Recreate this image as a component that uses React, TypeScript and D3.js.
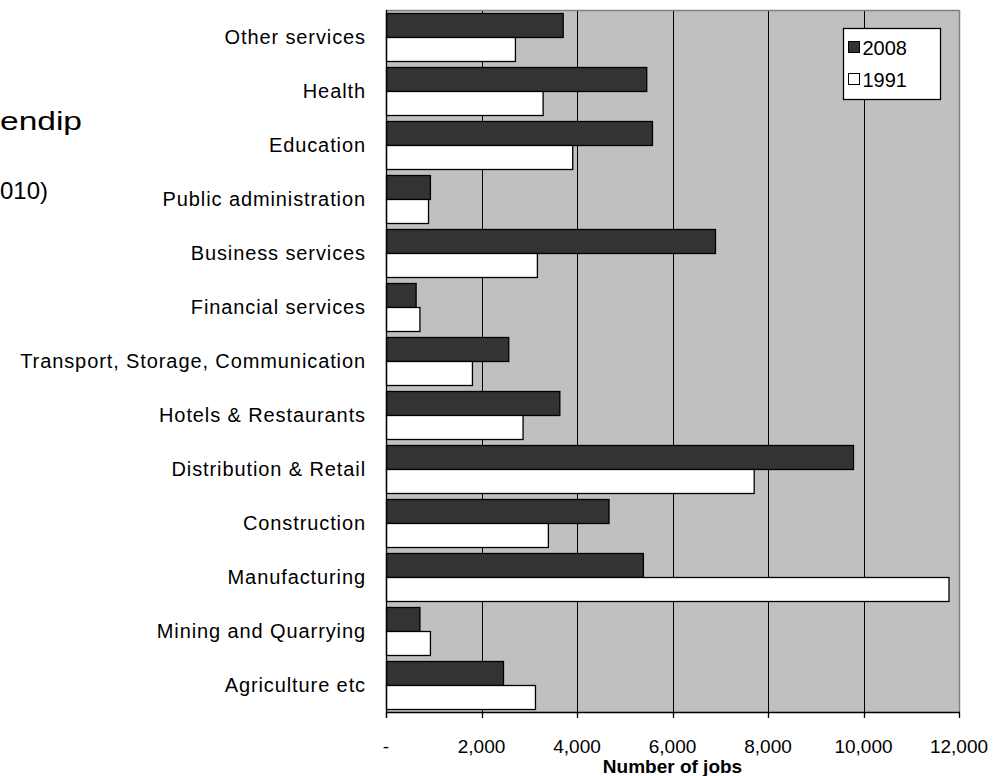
import { useRef, useEffect } from 'react';
import * as d3 from 'd3';

const VW = 1005, VH = 776;
const M = { top: 10, right: 46, bottom: 64, left: 386 };
const IW = VW - M.left - M.right;
const IH = VH - M.top - M.bottom;
const FONT = '"Liberation Sans", Arial, sans-serif';

const SECTORS = [
  'Other services', 'Health', 'Education', 'Public administration', 'Business services',
  'Financial services', 'Transport, Storage, Communication', 'Hotels & Restaurants',
  'Distribution & Retail', 'Construction', 'Manufacturing', 'Mining and Quarrying', 'Agriculture etc',
];
const JOBS_2008 = [3700, 5450, 5570, 920, 6890, 620, 2560, 3630, 9780, 4660, 5380, 700, 2450];
const JOBS_1991 = [2700, 3280, 3900, 880, 3160, 700, 1800, 2860, 7700, 3390, 11780, 920, 3120];
const YEARS = ['2008', '1991'];
const YEAR_FILL = ['#333333', '#ffffff'];
const X_TICKS = [0, 2000, 4000, 6000, 8000, 10000, 12000];

export default function App() {
  const svgRef = useRef<SVGSVGElement>(null);

  useEffect(() => {
    const svg = d3.select(svgRef.current);
    svg.selectAll('*').remove();

    const x = d3.scaleLinear().domain([0, 12000]).range([M.left, M.left + IW]);
    const y = d3.scaleBand<string>().domain(SECTORS).range([M.top, M.top + IH])
      .paddingInner(1 / 9).paddingOuter(1 / 18);
    const sub = d3.scaleBand<string>().domain(YEARS).range([0, y.bandwidth()]);
    const fmt = d3.format(',');

    // plot background
    svg.append('rect').attr('x', M.left).attr('y', M.top).attr('width', IW).attr('height', IH)
      .attr('fill', '#c0c0c0');

    // vertical gridlines
    svg.append('g').selectAll('line').data(X_TICKS.slice(1, -1)).join('line')
      .attr('x1', d => Math.round(x(d)) + 0.5).attr('x2', d => Math.round(x(d)) + 0.5)
      .attr('y1', M.top).attr('y2', M.top + IH).attr('stroke', '#000').attr('stroke-width', 1);

    // bars
    const rows = SECTORS.map((s, i) => ({ s, vals: [JOBS_2008[i], JOBS_1991[i]] }));
    const g = svg.append('g');
    rows.forEach(r => {
      r.vals.forEach((v, k) => {
        g.append('rect')
          .attr('x', x(0) + 0.5)
          .attr('y', Math.round((y(r.s) ?? 0) + (sub(YEARS[k]) ?? 0)) + 0.5)
          .attr('width', x(v) - x(0))
          .attr('height', sub.bandwidth())
          .attr('fill', YEAR_FILL[k]).attr('stroke', '#000').attr('stroke-width', 1.3);
      });
    });

    // plot frame: grey top/right, black axes left/bottom
    svg.append('line').attr('x1', M.left).attr('x2', M.left + IW).attr('y1', M.top + 0.5).attr('y2', M.top + 0.5)
      .attr('stroke', '#808080').attr('stroke-width', 1.5);
    svg.append('line').attr('x1', M.left + IW + 0.5).attr('x2', M.left + IW + 0.5).attr('y1', M.top).attr('y2', M.top + IH)
      .attr('stroke', '#808080').attr('stroke-width', 1.5);
    svg.append('line').attr('x1', M.left + 0.5).attr('x2', M.left + 0.5).attr('y1', M.top).attr('y2', M.top + IH + 6)
      .attr('stroke', '#000').attr('stroke-width', 1.3);
    svg.append('line').attr('x1', M.left).attr('x2', M.left + IW + 1).attr('y1', M.top + IH + 0.5).attr('y2', M.top + IH + 0.5)
      .attr('stroke', '#000').attr('stroke-width', 1.3);
    svg.append('g').selectAll('line').data(X_TICKS).join('line')
      .attr('x1', d => Math.round(x(d)) + 0.5).attr('x2', d => Math.round(x(d)) + 0.5)
      .attr('y1', M.top + IH).attr('y2', M.top + IH + 6).attr('stroke', '#000').attr('stroke-width', 1.3);

    // category labels
    svg.append('g').selectAll('text').data(SECTORS).join('text')
      .attr('x', M.left - 20).attr('y', d => (y(d) ?? 0) + y.bandwidth() / 2).attr('dy', '0.35em')
      .attr('text-anchor', 'end').attr('font-family', FONT).attr('font-size', 20)
      .attr('letter-spacing', 0.9).attr('fill', '#000')
      .text(d => d);

    // x tick labels
    svg.append('g').selectAll('text').data(X_TICKS).join('text')
      .attr('x', d => x(d)).attr('y', M.top + IH + 41).attr('text-anchor', 'middle')
      .attr('font-family', FONT).attr('font-size', 19).attr('fill', '#000')
      .text(d => (d === 0 ? '-' : fmt(d)));

    svg.append('text').attr('x', M.left + IW / 2).attr('y', M.top + IH + 61).attr('text-anchor', 'middle')
      .attr('font-family', FONT).attr('font-size', 19).attr('font-weight', 'bold').attr('fill', '#000')
      .text('Number of jobs');

    // legend
    const lg = svg.append('g').attr('transform', 'translate(843.5,28.5)');
    lg.append('rect').attr('width', 97).attr('height', 71).attr('fill', '#fff').attr('stroke', '#000').attr('stroke-width', 1.3);
    YEARS.forEach((yr, k) => {
      const cy = 19 + k * 32;
      lg.append('rect').attr('x', 5).attr('y', cy - 6).attr('width', 11).attr('height', 11)
        .attr('fill', YEAR_FILL[k]).attr('stroke', '#000').attr('stroke-width', 1);
      lg.append('text').attr('x', 19).attr('y', cy).attr('dy', '0.36em')
        .attr('font-family', FONT).attr('font-size', 20).attr('fill', '#000').text(yr);
    });

    // clipped title text box at the left edge
    svg.append('text').attr('x', 0).attr('y', 130).attr('font-family', FONT)
      .attr('font-size', 26).attr('fill', '#000').attr('textLength', 82).attr('lengthAdjust', 'spacingAndGlyphs').text('endip');
    svg.append('text').attr('x', 0).attr('y', 199).attr('font-family', FONT)
      .attr('font-size', 24).attr('fill', '#000').text('010)');
  }, []);

  return (
    <svg
      ref={svgRef}
      width={VW}
      height={VH}
      viewBox={`0 0 ${VW} ${VH}`}
      style={{ position: 'absolute', left: 0, top: 0, background: '#fff' }}
    />
  );
}
